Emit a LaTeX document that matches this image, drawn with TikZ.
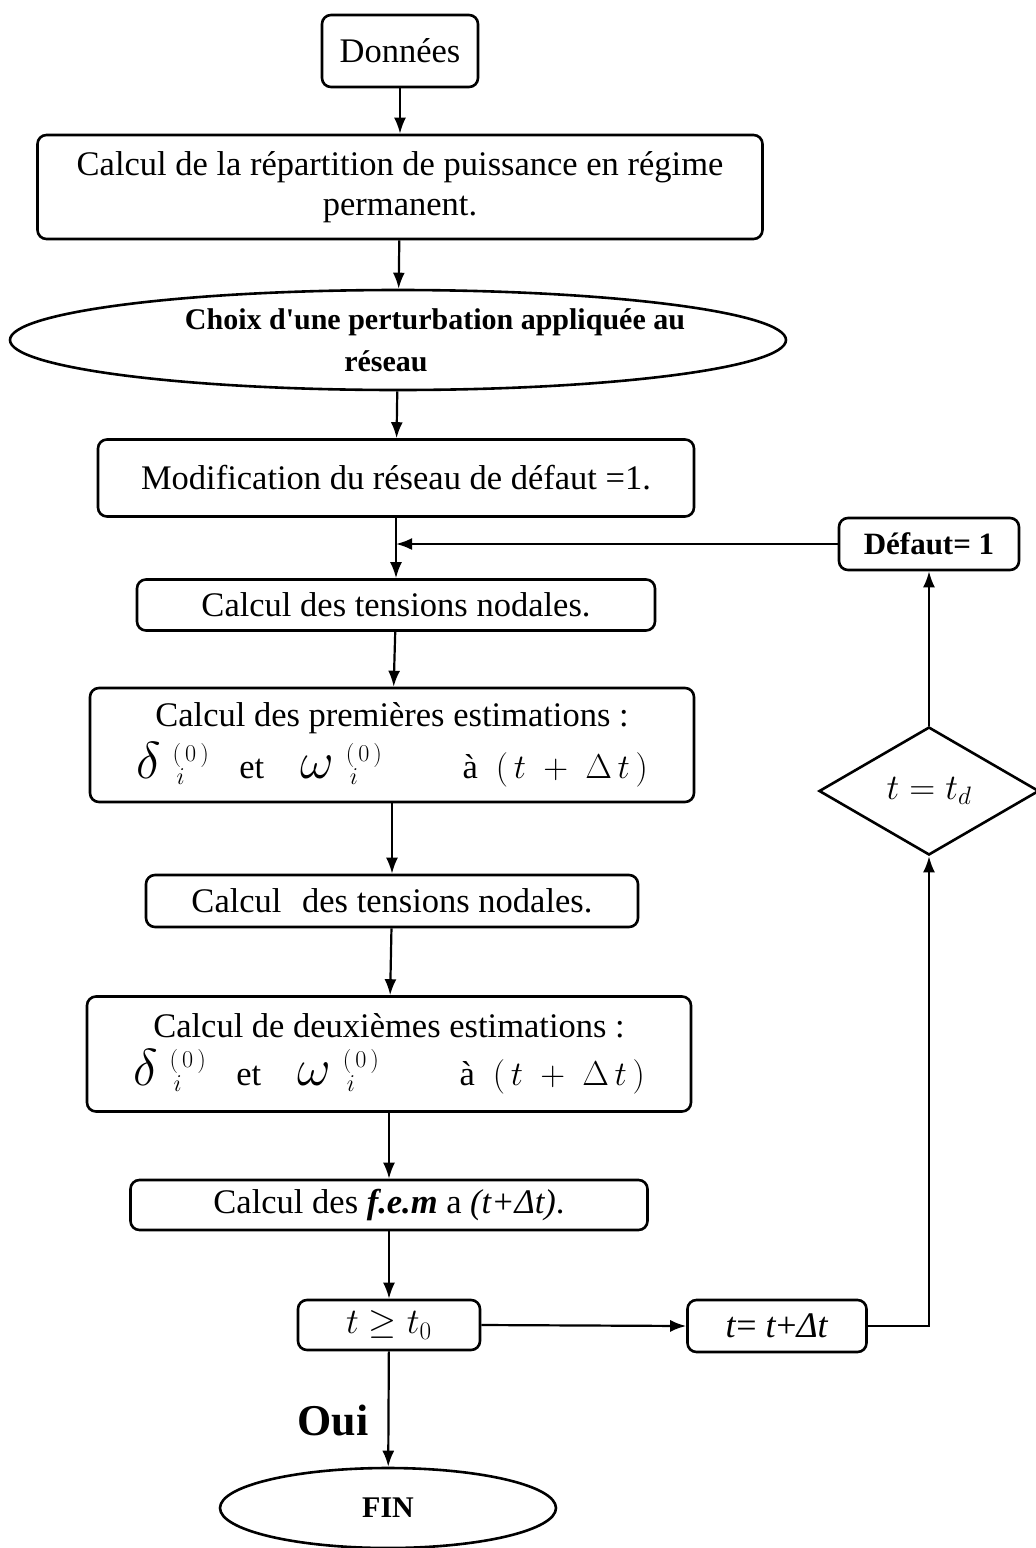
\RequirePackage{fix-cm}
\documentclass[tikz,border=0pt]{standalone}
\usepackage{fontspec}
\setmainfont{Liberation Serif}
\usetikzlibrary{shapes.geometric,arrows.meta}

\newcommand{\fsz}[1]{\fontsize{#1}{#1}\selectfont}
\newcommand{\apos}{\XeTeXglyph\XeTeXcharglyph"27\relax}
\newcommand{\gros}[1]{{\fontsize{52}{52}\selectfont$#1$}}
\newcommand{\estim}{\gros{\delta}\hspace{12pt}${}^{(\,0\,)}_{\,i}$\hspace{30pt}et\hspace{36pt}\gros{\omega}\hspace{12pt}${}^{(\,0\,)}_{\,i}$\hspace{80pt}à\hspace{18pt}$(\,t\;+\;\Delta\,t\,)$}

\begin{document}
\begin{tikzpicture}[x=1pt,y=-1pt,line width=2.2pt,>={Latex[length=16pt,width=12pt]},
	boite/.style={draw,rounded corners=9pt,line width=2.6pt,align=center,inner sep=0pt,font=\fontsize{34.5}{40}\selectfont},
	ovale/.style={draw,ellipse,line width=2.6pt,align=center,inner sep=0pt},
	losange/.style={draw,diamond,line width=2.6pt,inner sep=0pt,font=\fsz{36}}]
			\useasboundingbox (0,0) rectangle (1036,1548);

			\node (donnees)[boite, minimum width=156pt, minimum height=72pt] at (400,51) {Données};
			\node (repart)[boite, minimum width=725pt, minimum height=104pt] at (400,187) {Calcul de la répartition de puissance en régime\\permanent.};
			\node (choix)[ovale, minimum width=776pt, minimum height=100pt, font=\fontsize{30}{40}\selectfont\bfseries] at (398,340) {\makebox[0pt]{\hspace*{74pt}Choix d\apos une perturbation appliquée au}\\[2pt]\makebox[0pt]{réseau\hspace*{24pt}}};
			\node (modif)[boite, minimum width=596pt, minimum height=77pt] at (396,478) {Modification du réseau de défaut =1.};
			\node (tens1)[boite, minimum width=518pt, minimum height=51pt] at (396,605) {Calcul des tensions nodales.};
			\node (estim1)[boite, minimum width=604pt, minimum height=114pt] at (392,745) {Calcul des premières estimations :\\[8pt]\estim};
			\node (tens2)[boite, minimum width=492pt, minimum height=52pt] at (392,901) {Calcul\hspace{12pt} des tensions nodales.};
			\node (estim2)[boite, minimum width=604pt, minimum height=115pt] at (389,1054) {Calcul de deuxièmes estimations :\\[8pt]\estim};
			\node (fem)[boite, minimum width=517pt, minimum height=50pt] at (389,1205) {Calcul des \textbf{\textit{f.e.m}} a \textit{(t+Δt)}.};
			\node (test)[boite, minimum width=182pt, minimum height=50pt, font=\fsz{36}] at (389,1325) {$t \geq t_0$};
			\node (incr)[boite, minimum width=179pt, minimum height=52pt, font=\fsz{36}] at (777,1326) {\textit{t}= \textit{t}+\textit{Δt}};
			\node (cond)[losange, minimum width=220pt, minimum height=128pt] at (929,791) {$t = t_d$};
			\node (defaut)[boite, minimum width=180pt, minimum height=52pt, font=\fsz{31}\bfseries] at (929,544) {Défaut= 1};
			\node (fin)[ovale, minimum width=336pt, minimum height=80pt, font=\fsz{30}\bfseries] at (388,1508) {FIN};
			\node (oui)[font=\fsz{44}\bfseries] at (333,1420) {Oui};
			\coordinate (jonction) at (modif.south |- defaut.west);

			\draw [->](donnees) -- (repart);
			\draw [->](repart) -- (choix);
			\draw [->](choix) -- (modif);
			\draw [->](modif) -- (tens1);
			\draw [->](tens1) -- (estim1);
			\draw [->](estim1) -- (tens2);
			\draw [->](tens2) -- (estim2);
			\draw [->](estim2) -- (fem);
			\draw [->](fem) -- (test);
			\draw [->](test) -- (fin);
			\draw [->](test.east) -- (incr.west);
			\draw [->](incr.east) -| (cond.south);
			\draw [->](cond.north) -- (defaut.south);
			\draw [->](defaut.west) -- (jonction);
		\end{tikzpicture}
\end{document}
